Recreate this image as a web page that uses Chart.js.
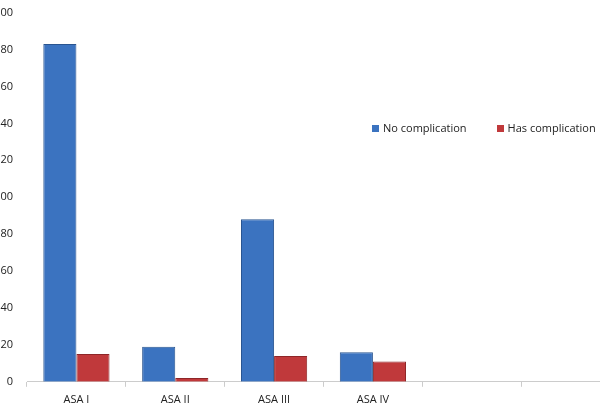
<!DOCTYPE html>
<html><head><meta charset="utf-8">
<script src="https://cdn.jsdelivr.net/npm/chart.js@4/dist/chart.umd.min.js"></script>
<style>
html,body{margin:0;padding:0;background:#fff;overflow:hidden;width:600px;height:410px;}
#wrap{position:absolute;left:0;top:0;width:620px;height:410px;}
#legend{position:absolute;left:372px;top:120px;font:11px "Open Sans",sans-serif;color:#222;white-space:nowrap;}
#legend span.b{display:inline-block;width:7px;height:7px;margin-right:4px;vertical-align:0px;}
</style></head><body>
<div id="wrap"><canvas id="c" width="620" height="410"></canvas></div>
<div id="legend"><span class="b" style="background:#3b73c0"></span>No complication<span style="display:inline-block;width:30px"></span><span class="b" style="background:#c0393b"></span>Has complication</div>
<script>
const categories = ["ASA I","ASA II","ASA III","ASA IV","",""];
const noComplication = [183,19,88,16,null,null];
const hasComplication = [15,2,14,11,null,null];
const yTicks = [0,20,40,60,80,100,120,140,160,180,200];
new Chart(document.getElementById('c'),{
  type:'bar',
  data:{labels:categories,datasets:[
    {label:'No complication',data:noComplication,backgroundColor:'#3b73c0',borderColor:'#2a5590',borderWidth:1,categoryPercentage:0.67,barPercentage:1},
    {label:'Has complication',data:hasComplication,backgroundColor:'#c0393b',borderColor:'#8e2628',borderWidth:1,categoryPercentage:0.67,barPercentage:1}
  ]},
  options:{responsive:false,animation:false,
    layout:{padding:{top:4,left:0,right:0,bottom:-2}},
    plugins:{legend:{display:false},tooltip:{enabled:false}},
    scales:{
      x:{grid:{display:true,drawOnChartArea:false,tickLength:5,color:'#ccc'},border:{color:'#ccc'},
         ticks:{color:'#222',font:{family:'Open Sans',size:11},padding:6}},
      y:{min:0,max:200,afterBuildTicks:a=>{a.ticks=yTicks.map(v=>({value:v}));},
         afterFit:a=>{a.width=27;},
         grid:{display:false},border:{display:false},
         ticks:{color:'#222',font:{family:'Open Sans',size:11},padding:6}}
    }}
});
</script></body></html>
